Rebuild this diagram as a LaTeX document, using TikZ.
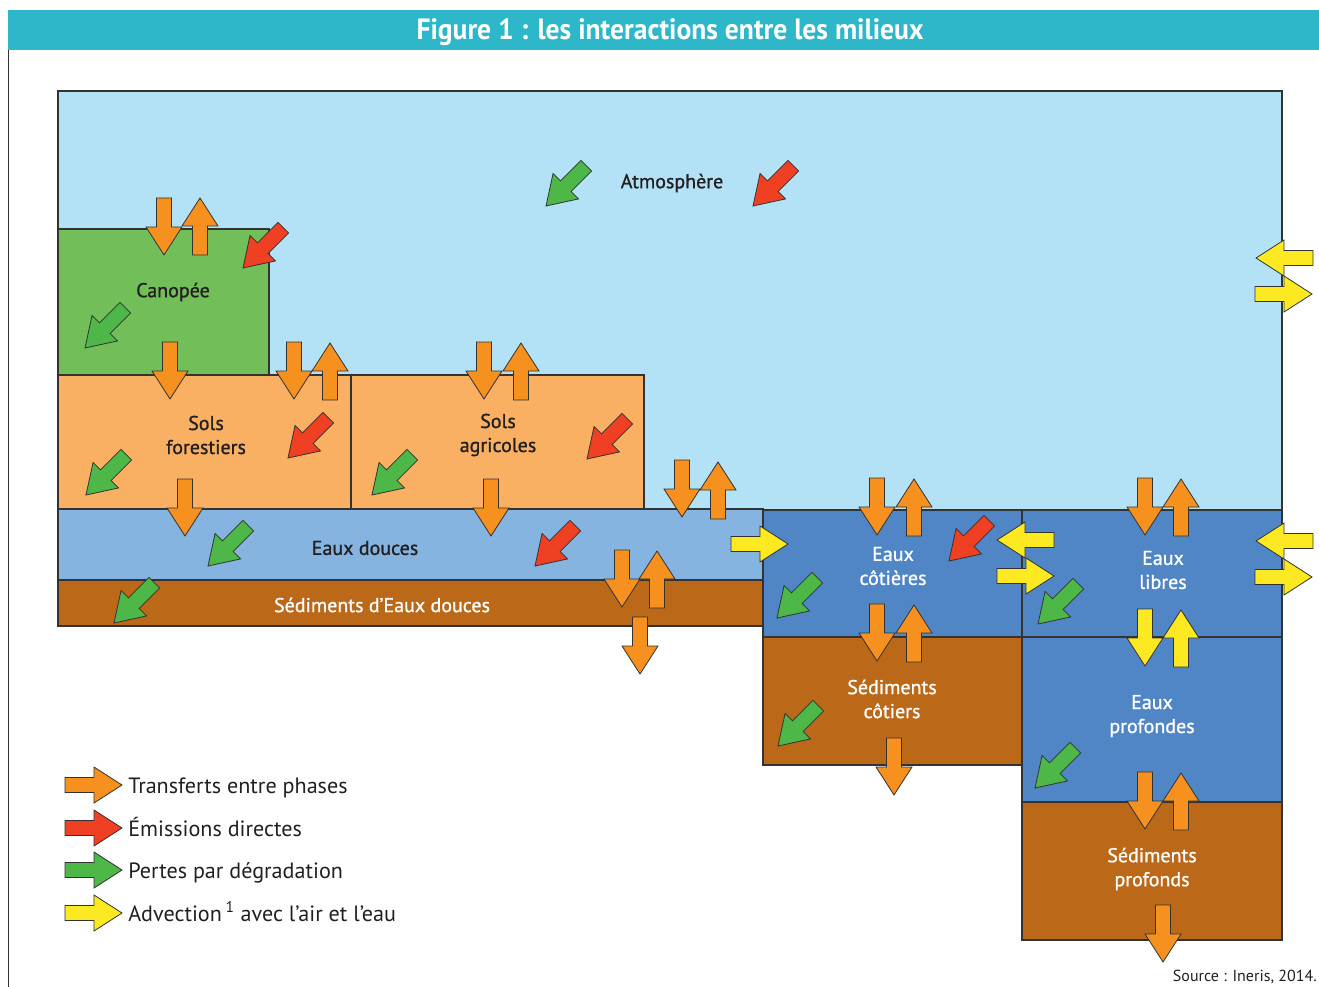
\documentclass[tikz,border=0pt]{standalone}
\usepackage{fontspec}
\setmainfont{PT Sans}
\newfontfamily\lblfont[FakeBold=1]{PT Sans}
\definecolor{titlec}{HTML}{2EB7C9}
\definecolor{atmc}{HTML}{B3E2F7}
\definecolor{canc}{HTML}{72BF5A}
\definecolor{solc}{HTML}{F9B063}
\definecolor{douc}{HTML}{84B4DF}
\definecolor{sedc}{HTML}{BB6819}
\definecolor{marc}{HTML}{5086C5}
\definecolor{orc}{HTML}{F6901E}
\definecolor{rdc}{HTML}{EF4023}
\definecolor{grc}{HTML}{4DB848}
\definecolor{ylc}{HTML}{FCE921}
\definecolor{txtc}{HTML}{231F20}
\definecolor{linec}{HTML}{333333}
\tikzset{
  boxst/.style={draw=linec, line width=0.9pt},
  arrst/.style={draw=linec, line width=0.6pt, line join=miter},
  lbl/.style={text=txtc, font=\lblfont\fontsize{15}{18}\selectfont, align=center, inner sep=0pt},
  wlbl/.style={lbl, text=white},
  leg/.style={text=txtc, font=\fontsize{16.6}{19}\selectfont, anchor=base west, inner sep=0pt}
}
\newcommand\blockarrow[4]{%
  \filldraw[arrst, fill=#1, shift={(#2,#3)}, rotate=#4]
    (0,0) -- (-28,18) -- (-28,7.5) -- (-57,7.5) -- (-57,-7.5) -- (-28,-7.5) -- (-28,-18) -- cycle;}
\begin{document}
\begin{tikzpicture}[x=0.75pt, y=-0.75pt]
\useasboundingbox (0,0) rectangle (1319,987);
% title
\fill[titlec] (8,10) rectangle (1319,50);
\node[text=white, font=\fontsize{22}{26}\selectfont\bfseries, inner sep=0pt] (title) at (670,32)
  {\scalebox{0.94}[1]{Figure 1 : les interactions entre les milieux}};
\draw[linec, line width=0.6pt] (8.5,50) -- (8.5,987);
% boxes
\path[boxst, fill=atmc] (58,91) rectangle (1282,510);
\path[boxst, fill=canc] (58,229) rectangle (269,375);
\path[boxst, fill=solc] (58,375) rectangle (351,509);
\path[boxst, fill=solc] (351,375) rectangle (644,509);
\path[boxst, fill=douc] (58,509) rectangle (763,580);
\path[boxst, fill=sedc] (58,580) rectangle (763,626);
\path[boxst, fill=marc] (763,510) rectangle (1022,637);
\path[boxst, fill=marc] (1022,510) rectangle (1282,637);
\path[boxst, fill=sedc] (763,637) rectangle (1022,765);
\path[boxst, fill=marc] (1022,637) rectangle (1282,802);
\path[boxst, fill=sedc] (1022,802) rectangle (1282,940);
% labels
\node[lbl] (atm) at (672,183) {Atmosphère};
\node[lbl] (can) at (173,292) {Canopée};
\node[lbl] (solf) at (206,435) {Sols\\forestiers};
\node[lbl] (sola) at (498,435) {Sols\\agricoles};
\node[lbl] (edo) at (365,548) {Eaux douces};
\node[wlbl] (sedo) at (382,605) {Sédiments d’Eaux douces};
\node[wlbl] (ecot) at (893,566) {Eaux\\côtières};
\node[wlbl] (elib) at (1163,570) {Eaux\\libres};
\node[wlbl] (scot) at (892,699) {Sédiments\\côtiers};
\node[wlbl] (epro) at (1152,716) {Eaux\\profondes};
\node[wlbl] (spro) at (1152,869) {Sédiments\\profonds};
% orange down arrows
\foreach \x/\y in {164/255, 170/399, 294/399, 484/399, 185/536, 491/536, 682/517, 622/607, 640/674, 877/535, 877/661, 894/795, 1145/535, 1145/829, 1163/962}
  {\blockarrow{orc}{\x}{\y}{-90}}
% orange up arrows
\foreach \x/\y in {200/198, 330/343, 521/343, 718/462, 657/551, 914/479, 914/605, 1181/479, 1181/773}
  {\blockarrow{orc}{\x}{\y}{90}}
% red diagonal
\foreach \x/\y in {243/268, 288/458, 587/459, 535/566, 949/561, 753/206}
  {\blockarrow{rdc}{\x}{\y}{225}}
% green diagonal
\foreach \x/\y in {85/348, 86/495, 372/495, 208/566, 114/623, 777/618, 778/746, 1038/624, 1035/788, 546/206}
  {\blockarrow{grc}{\x}{\y}{225}}
% yellow
\foreach \x/\y in {788/544, 1054/576, 1312/294, 1312/577}
  {\blockarrow{ylc}{\x}{\y}{0}}
\foreach \x/\y in {997/540, 1256/258, 1256/541}
  {\blockarrow{ylc}{\x}{\y}{180}}
\blockarrow{ylc}{1145}{666}{-90}
\blockarrow{ylc}{1181}{610}{90}
% legend
\blockarrow{orc}{122}{785}{0}
\blockarrow{rdc}{122}{828}{0}
\blockarrow{grc}{122}{870}{0}
\blockarrow{ylc}{122}{913}{0}
\node[leg] (l1) at (128,793) {Transferts entre phases};
\node[leg] (l2) at (128,836) {Émissions directes};
\node[leg] (l3) at (128,878) {Pertes par dégradation};
\node[leg] (l4) at (128,921) {Advection\,\textsuperscript{1} avec l’air et l’eau};
% source
\node[text=txtc, font=\fontsize{12}{14}\selectfont, anchor=east, inner sep=0pt] (src) at (1317,977) {Source : Ineris, 2014.};
\end{tikzpicture}
\end{document}
